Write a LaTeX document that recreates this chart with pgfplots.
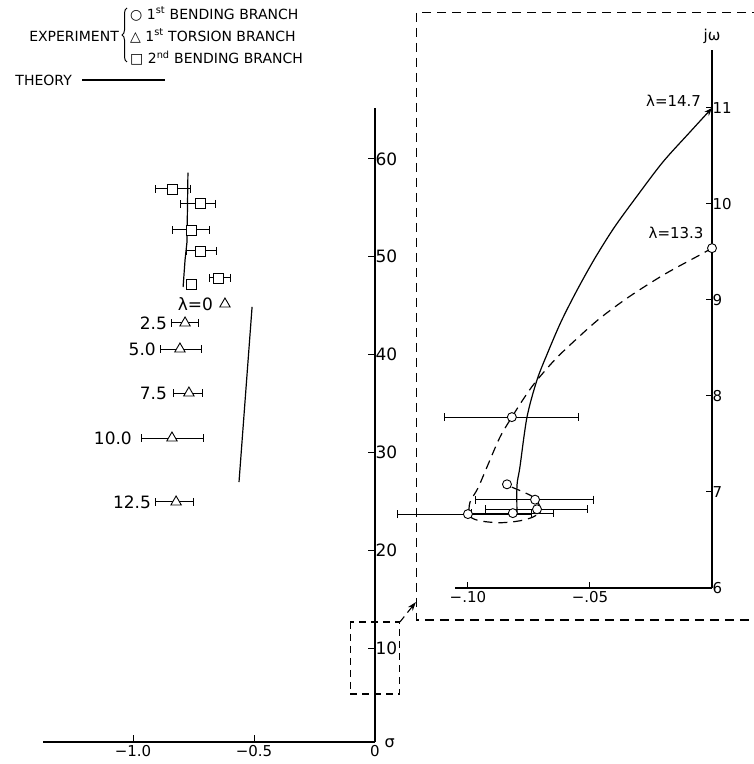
\documentclass[border=0pt]{standalone}
\usepackage{fontspec}
\setmainfont{DejaVu Sans}
\usepackage{pgfplots}
\pgfplotsset{compat=1.18}
\usetikzlibrary{arrows.meta,decorations.pathreplacing}
\begin{document}
\begin{tikzpicture}[x=1pt,y=1pt]
\path[use as bounding box] (0,0) rectangle (754,764);
% ---------- legend ----------
\node[anchor=east,font=\fontsize{14}{14}\selectfont,inner sep=0pt] at (119,728) {EXPERIMENT};
\draw[line width=1pt,decorate,decoration={brace,amplitude=5pt}] (127,702) -- (127,756);
\node[anchor=west,font=\fontsize{14}{14}\selectfont,inner sep=0pt] at (130,750) {○ 1\textsuperscript{st} BENDING BRANCH};
\node[anchor=west,font=\fontsize{14}{14}\selectfont,inner sep=0pt] at (130,728) {△ 1\textsuperscript{st} TORSION BRANCH};
\node[anchor=west,font=\fontsize{14}{14}\selectfont,inner sep=0pt] at (130,706) {□ 2\textsuperscript{nd} BENDING BRANCH};
\node[anchor=east,font=\fontsize{14}{14}\selectfont,inner sep=0pt] at (72,684) {THEORY};
\draw[line width=1.2pt] (82,684) -- (165,684);
% ---------- main axis ----------
\begin{axis}[
  at={(43pt,22pt)}, anchor=south west, scale only axis,
  width=332pt, height=634pt,
  xmin=-1.372, xmax=0, ymin=0.39, ymax=65.21,
  axis x line=bottom, axis y line=right,
  axis line style={-, line width=1.1pt},
  xtick={-1,-0.5,0}, xticklabels={−1.0,−0.5,0},
  ytick={10,20,30,40,50,60}, yticklabels={10,20,30,40,50,60},
  tick align=inside, major tick length=7pt,
  tick style={line width=1pt, black},
  x tick label style={font=\fontsize{15}{15}\selectfont},
  y tick label style={font=\fontsize{17}{17}\selectfont, xshift=-3pt},
  clip=false,
]
% 2nd bending branch (squares)
\addplot[only marks, mark=square*, mark options={fill=white, line width=0.9pt, mark size=5pt},
  error bars/.cd, x dir=both, x explicit, error bar style={line width=1pt},
  error mark options={rotate=90, line width=1pt, mark size=4pt}]
  coordinates {
  (-0.835,56.93) += (0.071,0) -= (0.074,0)
  (-0.723,55.40) += (0.062,0) -= (0.079,0)
  (-0.760,52.74) += (0.074,0) -= (0.075,0)
  (-0.723,50.59) += (0.070,0) -= (0.054,0)
  (-0.645,47.83) += (0.046,0) -= (0.037,0)
  };
\addplot[only marks, mark=square*, mark options={fill=white, line width=0.9pt, mark size=5pt}]
  coordinates {(-0.760,47.22)};
% theory 2nd bending
\addplot[line width=1.2pt] coordinates {(-0.773,58.6) (-0.777,51.51) (-0.785,49.67) (-0.793,46.91)};
% 1st torsion (triangles)
\addplot[only marks, mark=triangle*, mark options={fill=white, line width=0.9pt, mark size=6pt},
  error bars/.cd, x dir=both, x explicit, error bar style={line width=1pt},
  error mark options={rotate=90, line width=1pt, mark size=4pt}]
  coordinates {
  (-0.785,43.23) += (0.054,0) -= (0.054,0)
  (-0.806,40.57) += (0.091,0) -= (0.082,0)
  (-0.769,36.07) += (0.058,0) -= (0.062,0)
  (-0.839,31.47) += (0.132,0) -= (0.128,0)
  (-0.822,24.93) += (0.074,0) -= (0.087,0)
  };
\addplot[only marks, mark=triangle*, mark options={fill=white, line width=0.9pt, mark size=6pt}]
  coordinates {(-0.620,45.17)};
% theory torsion
\addplot[line width=1.2pt] coordinates {(-0.508,44.87) (-0.562,26.97)};
% labels
\node[anchor=east,font=\fontsize{17}{17}\selectfont,inner sep=1pt] at (axis cs:-0.665,45.17) {λ=0};
\node[anchor=east,font=\fontsize{17}{17}\selectfont,inner sep=1pt] at (axis cs:-0.855,43.23) {2.5};
\node[anchor=east,font=\fontsize{17}{17}\selectfont,inner sep=1pt] at (axis cs:-0.901,40.57) {5.0};
\node[anchor=east,font=\fontsize{17}{17}\selectfont,inner sep=1pt] at (axis cs:-0.855,36.07) {7.5};
\node[anchor=east,font=\fontsize{17}{17}\selectfont,inner sep=1pt] at (axis cs:-1.000,31.47) {10.0};
\node[anchor=east,font=\fontsize{17}{17}\selectfont,inner sep=1pt] at (axis cs:-0.921,24.93) {12.5};
\node[anchor=west,font=\fontsize{16}{16}\selectfont,inner sep=1pt] at (axis cs:0.035,0.3) {σ};
% zoom box and arrow
\draw[line width=1.1pt, dash pattern=on 7pt off 5pt] (axis cs:-0.103,12.66) rectangle (axis cs:0.103,5.30);
\draw[line width=1.1pt, dash pattern=on 7pt off 5pt, -{Stealth[length=9pt,width=6pt]}] (axis cs:0.103,12.66) -- (axis cs:0.169,14.70);
\end{axis}
% ---------- inset axis ----------
\begin{axis}[
  at={(455pt,176pt)}, anchor=south west, scale only axis,
  width=257pt, height=538pt,
  xmin=-0.1053, xmax=0, ymin=6, ymax=11.604,
  axis x line=bottom, axis y line=right,
  axis line style={-, line width=1.1pt},
  xtick={-0.1,-0.05}, xticklabels={−.10,−.05},
  ytick={6,7,8,9,10,11}, yticklabels={6,7,8,9,10,11},
  tick align=inside, major tick length=6pt,
  tick style={line width=1pt, black},
  x tick label style={font=\fontsize{15}{15}\selectfont},
  y tick label style={font=\fontsize{15}{15}\selectfont, xshift=-3pt},
  clip=false,
]
% theory solid
\addplot[line width=1.2pt, smooth, -{Stealth[length=8pt,width=6pt]}] coordinates {
 (-0.0799,6.78) (-0.0799,7.07) (-0.0787,7.26) (-0.0758,7.78) (-0.0717,8.167)
 (-0.0672,8.458) (-0.0619,8.771) (-0.0557,9.083) (-0.0484,9.417) (-0.0402,9.750)
 (-0.0307,10.083) (-0.0201,10.438) (-0.0090,10.750) (0,11.0)};
% theory dashed
\addplot[line width=1.2pt, smooth, dash pattern=on 9pt off 6pt] coordinates {
 (-0.0820,7.05) (-0.0734,6.95) (-0.0705,6.84) (-0.0725,6.75) (-0.0787,6.70) (-0.0869,6.68)
 (-0.0951,6.70) (-0.0992,6.75) (-0.0992,6.89) (-0.0959,7.04) (-0.0922,7.26) (-0.0869,7.57)
 (-0.0820,7.78) (-0.0775,7.96) (-0.0725,8.14) (-0.0643,8.38) (-0.0561,8.58) (-0.0459,8.81)
 (-0.0336,9.04) (-0.0193,9.27) (-0.0049,9.47) (0,9.54)};
% 1st bending (circles)
\addplot[only marks, mark=*, mark options={fill=white, line width=0.9pt, mark size=4.5pt},
  error bars/.cd, x dir=both, x explicit, error bar style={line width=1pt},
  error mark options={rotate=90, line width=1pt, mark size=4pt}]
  coordinates {
  (-0.0820,7.78) += (0.0271,0) -= (0.0274,0)
  (-0.0725,6.92) += (0.0241,0) -= (0.0246,0)
  (-0.0717,6.82) += (0.0205,0) -= (0.0209,0)
  (-0.0816,6.78) += (0.0168,0) -= (0.0168,0)
  (-0.1000,6.77) += (0.0262,0) -= (0.0287,0)
  };
\addplot[only marks, mark=*, mark options={fill=white, line width=0.9pt, mark size=4.5pt}]
  coordinates {(-0.0840,7.08) (0,9.54)};
% labels
\node[anchor=east,font=\fontsize{15}{15}\selectfont,inner sep=1pt] at (axis cs:-0.004,11.08) {λ=14.7};
\node[anchor=east,font=\fontsize{15}{15}\selectfont,inner sep=1pt] at (axis cs:-0.003,9.70) {λ=13.3};
\node[anchor=south,font=\fontsize{15}{15}\selectfont,inner sep=2pt] at (axis cs:0,11.65) {jω};
% inset frame
\draw[line width=1.1pt, dash pattern=on 9pt off 6pt] (axis cs:-0.1209,11.99) rectangle (axis cs:0.0205,5.667);
\end{axis}
\end{tikzpicture}
\end{document}
